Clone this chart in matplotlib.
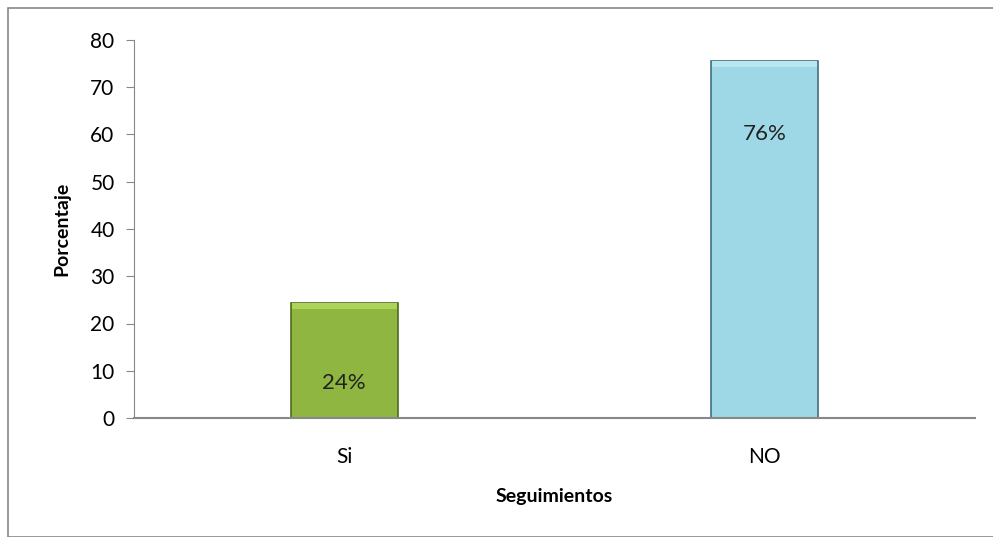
import matplotlib.pyplot as plt
from matplotlib.patches import Rectangle

categories = ['Si', 'NO']
values = [24.4, 75.6]
labels = ['24%', '76%']
label_pos = [7.5, 60]
colors = ['#8fb640', '#9ed8e7']
tops = ['#acd35a', '#b9e7f1']
edges = ['#4f6b1c', '#3f6f80']

plt.rcParams['font.family'] = ['Lato', 'DejaVu Sans']

fig = plt.figure(figsize=(9.93, 5.37), dpi=100)
ax = fig.add_axes([134/993, 1 - 418/537, 841/993, 378/537])

x = range(len(categories))
ax.bar(x, values, width=0.255, color=colors, edgecolor=edges, linewidth=1.2, zorder=2)
# subtle light bevel along the top of each bar
ax.bar(x, [1.2] * len(values), bottom=[v - 1.3 for v in values], width=0.25,
       color=tops, linewidth=0, zorder=3)
for i, (lab, ypos) in enumerate(zip(labels, label_pos)):
    ax.text(i, ypos, lab, ha='center', va='center', fontsize=16, color='#222222', zorder=4)

ax.set_xlim(-0.5, 1.5)
ax.set_ylim(0, 80)
ax.set_yticks(range(0, 81, 10))
ax.set_xticks(list(x))
ax.set_xticklabels(categories)
ax.tick_params(axis='y', labelsize=15, length=6, color='#888888', pad=8)
ax.tick_params(axis='x', labelsize=15, length=0, pad=21)
for s in ['top', 'right']:
    ax.spines[s].set_visible(False)
ax.spines['left'].set_color('#888888')
ax.spines['bottom'].set_color('#888888')
ax.spines['bottom'].set_linewidth(1.5)

ax.set_ylabel('Porcentaje', fontsize=14, fontweight='bold', labelpad=14)
ax.set_xlabel('Seguimientos', fontsize=14, fontweight='bold', labelpad=15)

fig.patches.append(Rectangle((8/993, 0), 1, 1 - 8/537, transform=fig.transFigure,
                             fill=False, edgecolor='#888888', linewidth=1.2))

fig.savefig('out.png', dpi=100)
